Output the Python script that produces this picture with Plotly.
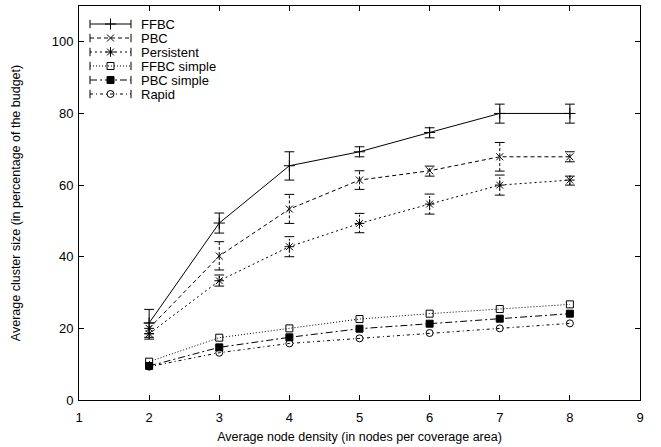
import plotly.graph_objects as go

# Average node density (nodes per coverage area)
density = [2, 3, 4, 5, 6, 7, 8]

# Average cluster size, % of budget, with error-bar bounds
ffbc = [21.5, 49.4, 65.4, 69.3, 74.7, 80.0, 80.0]
ffbc_lo = [17.5, 46.6, 61.4, 67.9, 73.2, 77.3, 77.3]
ffbc_hi = [25.3, 52.2, 69.3, 70.7, 76.0, 82.6, 82.6]

pbc = [20.0, 40.2, 53.3, 61.4, 64.0, 67.9, 67.9]
pbc_lo = [18.5, 36.3, 49.3, 58.8, 62.5, 63.9, 66.5]
pbc_hi = [21.5, 44.2, 57.4, 64.0, 65.3, 71.9, 69.3]

persistent = [18.5, 33.3, 42.8, 49.3, 54.7, 60.0, 61.4]
persistent_lo = [17.0, 31.8, 40.0, 46.7, 51.9, 57.2, 60.0]
persistent_hi = [20.0, 34.9, 45.6, 52.1, 57.5, 62.8, 62.5]

ffbc_simple = [10.7, 17.4, 20.0, 22.6, 24.1, 25.4, 26.7]
pbc_simple = [9.5, 14.7, 17.5, 19.9, 21.3, 22.7, 24.1]
rapid = [9.3, 13.2, 15.8, 17.2, 18.7, 20.0, 21.4]

series_names = ["FFBC", "PBC", "Persistent", "FFBC simple", "PBC simple", "Rapid"]
x_ticks = [1, 2, 3, 4, 5, 6, 7, 8, 9]
y_ticks = [0, 20, 40, 60, 80, 100]

FONT = "Liberation Sans, Arial, Helvetica, sans-serif"
BLACK = "#000000"

styles = {
    "FFBC": dict(dash="solid", symbol="cross-thin-open", size=8),
    "PBC": dict(dash="4px,3px", symbol="x-thin-open", size=7),
    "Persistent": dict(dash="2px,3px", symbol="asterisk-open", size=8),
    "FFBC simple": dict(dash="1px,2px", symbol="square-open", size=7),
    "PBC simple": dict(dash="7px,3px,2px,3px", symbol="square", size=7),
    "Rapid": dict(dash="3px,3px,1px,3px", symbol="circle-open", size=7),
}

values = {
    "FFBC": ffbc,
    "PBC": pbc,
    "Persistent": persistent,
    "FFBC simple": ffbc_simple,
    "PBC simple": pbc_simple,
    "Rapid": rapid,
}

fig = go.Figure()


def add_error_bars(xs, lo, hi, dash):
    """Vertical error bars drawn as line segments so they can carry a dash style."""
    seg_x, seg_y = [], []
    for xv, a, b in zip(xs, lo, hi):
        seg_x += [xv, xv, None]
        seg_y += [a, b, None]
    fig.add_trace(go.Scatter(
        x=seg_x, y=seg_y, mode="lines",
        line=dict(color=BLACK, width=1, dash=dash),
        hoverinfo="skip", showlegend=False,
    ))
    # end caps
    fig.add_trace(go.Scatter(
        x=list(xs) + list(xs), y=list(lo) + list(hi), mode="markers",
        marker=dict(symbol="line-ew-open", size=7, color=BLACK,
                    line=dict(color=BLACK, width=1)),
        hoverinfo="skip", showlegend=False,
    ))


add_error_bars(density, ffbc_lo, ffbc_hi, "solid")
add_error_bars(density, pbc_lo, pbc_hi, "3px,2px")
add_error_bars(density, persistent_lo, persistent_hi, "2px,2px")

for name in series_names:
    st = styles[name]
    fig.add_trace(go.Scatter(
        x=density, y=values[name], mode="lines+markers", name=name,
        line=dict(color=BLACK, width=1, dash=st["dash"]),
        marker=dict(symbol=st["symbol"], size=st["size"], color=BLACK,
                    line=dict(color=BLACK, width=1)),
        showlegend=False,
    ))

# Key drawn on an overlay axis measured in pixels from the plot's top-left corner
KEY_X0, KEY_X1, KEY_TEXT_X = 11, 52, 60
KEY_ROW0, KEY_ROW_STEP = 18, 14
for i, name in enumerate(series_names):
    st = styles[name]
    yk = KEY_ROW0 + i * KEY_ROW_STEP
    fig.add_trace(go.Scatter(
        x=[KEY_X0, KEY_X1], y=[yk, yk], xaxis="x2", yaxis="y2", mode="lines",
        line=dict(color=BLACK, width=1, dash=st["dash"]),
        hoverinfo="skip", showlegend=False,
    ))
    fig.add_trace(go.Scatter(
        x=[KEY_X0, KEY_X1], y=[yk, yk], xaxis="x2", yaxis="y2", mode="markers",
        marker=dict(symbol="line-ns-open", size=6, color=BLACK,
                    line=dict(color=BLACK, width=1)),
        hoverinfo="skip", showlegend=False,
    ))
    fig.add_trace(go.Scatter(
        x=[(KEY_X0 + KEY_X1) / 2], y=[yk], xaxis="x2", yaxis="y2", mode="markers",
        marker=dict(symbol=st["symbol"], size=st["size"], color=BLACK,
                    line=dict(color=BLACK, width=1)),
        hoverinfo="skip", showlegend=False,
    ))
    fig.add_annotation(
        x=KEY_TEXT_X, y=yk, xref="x2", yref="y2", text=name, showarrow=False,
        xanchor="left", yanchor="middle",
        font=dict(family=FONT, size=13, color=BLACK),
    )

W, H = 661, 447
ML, MR, MT, MB = 79, 21, 6, 47

fig.update_layout(
    width=W, height=H, autosize=False,
    margin=dict(l=ML, r=MR, t=MT, b=MB, pad=0),
    paper_bgcolor="white", plot_bgcolor="white",
    font=dict(family=FONT, size=12, color=BLACK),
    showlegend=False,
    xaxis=dict(
        range=[1, 9], tickvals=x_ticks, ticks="inside", ticklen=5, tickwidth=1,
        tickcolor=BLACK, showline=True, linecolor=BLACK, linewidth=1,
        mirror="ticks", showgrid=False, zeroline=False,
        tickfont=dict(family=FONT, size=13), ticklabelstandoff=5,
        title=dict(text="Average node density (in nodes per coverage area)",
                   font=dict(family=FONT, size=12.5), standoff=8),
    ),
    yaxis=dict(
        range=[0, 110], tickvals=y_ticks, ticks="inside", ticklen=5, tickwidth=1,
        tickcolor=BLACK, showline=True, linecolor=BLACK, linewidth=1,
        mirror="ticks", showgrid=False, zeroline=False,
        tickfont=dict(family=FONT, size=13), ticklabelstandoff=2,
        title=dict(text="Average cluster size (in percentage of the budget)",
                   font=dict(family=FONT, size=12.5), standoff=28),
    ),
    xaxis2=dict(domain=[0, 1], range=[0, W - ML - MR], visible=False,
                overlaying="x", anchor="y2"),
    yaxis2=dict(domain=[0, 1], range=[H - MT - MB, 0], visible=False,
                overlaying="y", anchor="x2"),
)

fig.write_html("out.html")
